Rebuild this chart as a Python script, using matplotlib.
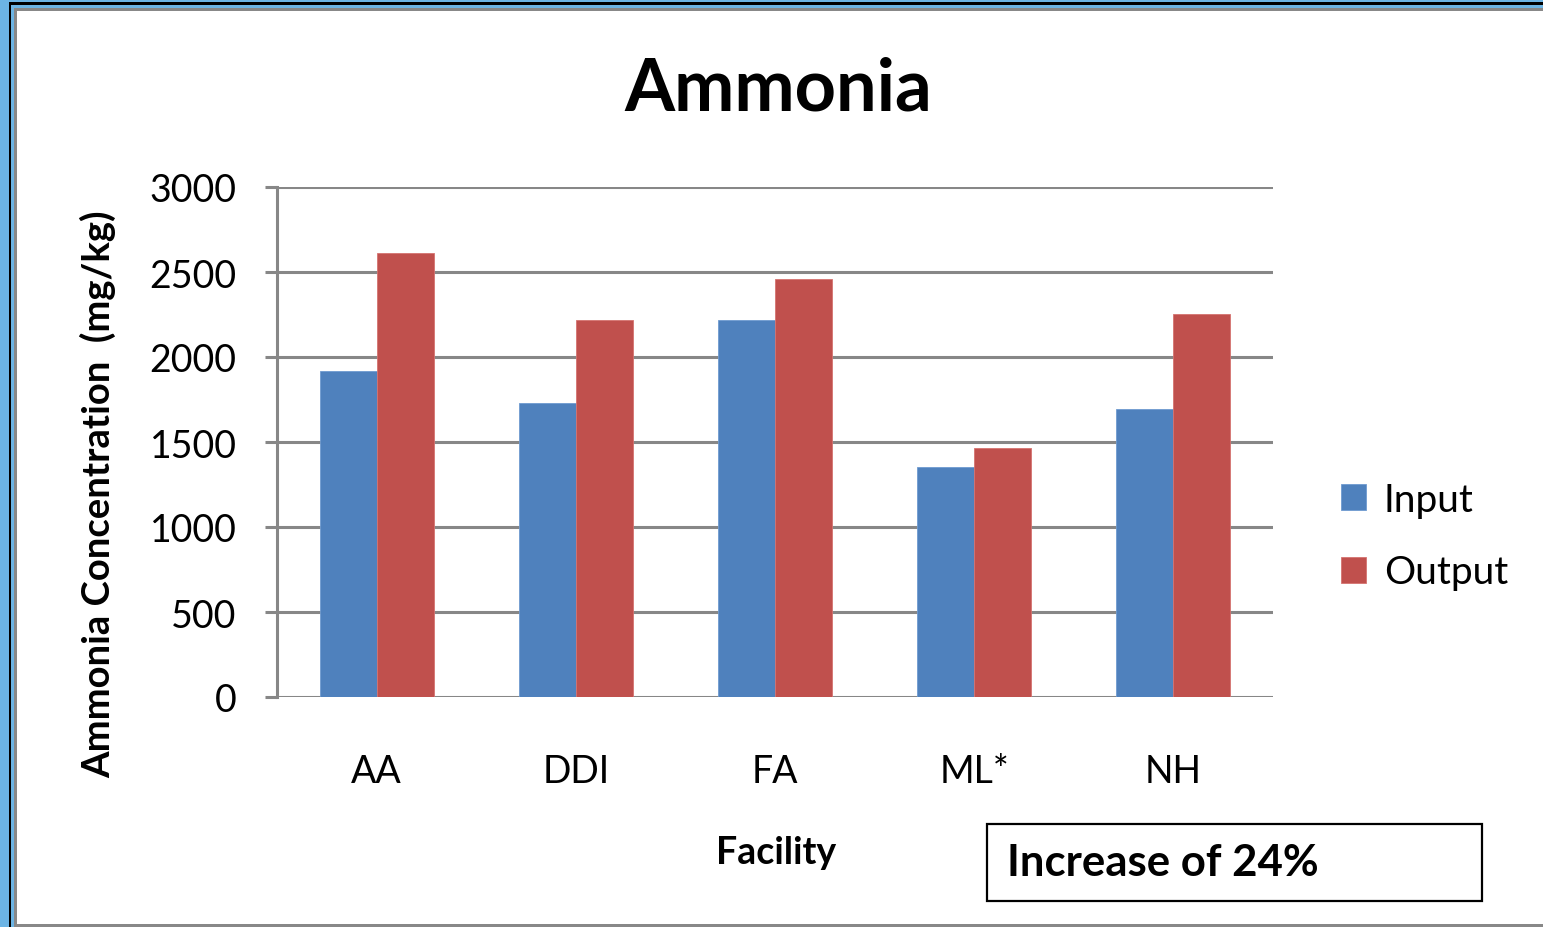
import matplotlib.pyplot as plt
from matplotlib.patches import Rectangle
import numpy as np

plt.rcParams['font.family'] = ['Lato', 'DejaVu Sans']

# Data
facilities = ['AA', 'DDI', 'FA', 'ML*', 'NH']
input_vals = [1915, 1730, 2215, 1355, 1695]
output_vals = [2610, 2215, 2460, 1465, 2255]

W, H = 1543, 928


def fx(px):
    return px / W


def fy(py):
    return 1 - py / H


def frame_rect(left, top, color, bottom=H + 20):
    # rectangle from (left, top) in pixels running off the right edge
    r = Rectangle((fx(left), fy(bottom)), 2, fy(top) - fy(bottom),
                  transform=fig.transFigure, facecolor=color, edgecolor='none', zorder=-10)
    fig.patches.append(r)


fig = plt.figure(figsize=(W / 100, H / 100), dpi=100)
fig.patch.set_facecolor('#6CB4E4')

# frame layers
frame_rect(9, 3, 'black')
frame_rect(11, 6, '#6CB4E4')
frame_rect(14, 9, '#888888')
frame_rect(17, 12, 'white', bottom=925)

ax = fig.add_axes([fx(277), fy(698), fx(1273) - fx(277), fy(188) - fy(698)])
ax.set_facecolor('none')
ax.set_zorder(2)

x = np.arange(len(facilities))
w = 0.286
ax.bar(x - w / 2, input_vals, w, color='#4F81BD', edgecolor='#6F9BD0', linewidth=0.6, label='Input', zorder=3)
ax.bar(x + w / 2, output_vals, w, color='#C0504D', edgecolor='#D57370', linewidth=0.6, label='Output', zorder=3)

ax.set_xlim(-0.5, 4.5)
ax.set_ylim(0, 3000)
ax.set_yticks(np.arange(0, 3001, 500))
ax.set_xticks(x)
ax.set_xticklabels(facilities, fontsize=27)
ax.tick_params(axis='x', length=0, pad=40)
ax.tick_params(axis='y', length=9, width=2.2, color='#878787', labelsize=27, pad=20, direction='out')
ax.yaxis.grid(True, color='#878787', linewidth=2.2, zorder=1)
ax.set_axisbelow(True)
for s in ['top', 'right', 'bottom']:
    ax.spines[s].set_visible(False)
ax.spines['left'].set_color('#878787')
ax.spines['left'].set_linewidth(2.2)

fig.text(fx(778), fy(90), 'Ammonia', fontsize=52, fontweight='bold', ha='center', va='center')
fig.text(fx(98), fy(494), 'Ammonia Concentration  (mg/kg)', fontsize=27.5, fontweight='bold',
         rotation=90, ha='center', va='center')
fig.text(fx(776), fy(853), 'Facility', fontsize=27, fontweight='bold', ha='center', va='center')

leg = fig.legend(loc='center left', bbox_to_anchor=(fx(1306), fy(537)), frameon=False,
                 fontsize=28, handlelength=0.65, handleheight=0.65, handletextpad=0.45, labelspacing=0.95)

fig.text(fx(1007), fy(863), 'Increase of 24%', fontsize=31.5, fontweight='bold', ha='left', va='center')
fig.patches.append(Rectangle((fx(987), fy(902)), fx(1482) - fx(987), fy(825) - fy(902),
                             transform=fig.transFigure, facecolor='none', edgecolor='black',
                             linewidth=1.6, zorder=5))

fig.savefig('out.png', dpi=100, facecolor=fig.get_facecolor())
